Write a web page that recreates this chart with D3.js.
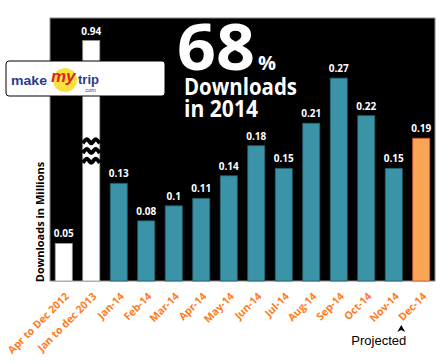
<!DOCTYPE html>
<html>
<head>
<meta charset="utf-8">
<script src="https://cdn.jsdelivr.net/npm/d3@7"></script>
<style>
  body { margin: 0; background: #fff; }
  svg { display: block; font-family: "Open Sans", sans-serif; }
</style>
</head>
<body>
<div id="chart"></div>
<script>
// data
const categories = ['Apr to Dec 2012', 'Jan to dec 2013', 'Jan-14', 'Feb-14', 'Mar-14', 'Apr-14', 'May-14',
  'Jun-14', 'Jul-14', 'Aug-14', 'Sep-14', 'Oct-14', 'Nov-14', 'Dec-14'];
const downloads = [0.05, 0.94, 0.13, 0.08, 0.1, 0.11, 0.14, 0.18, 0.15, 0.21, 0.27, 0.22, 0.15, 0.19];
const kinds = ['past', 'past', 'month', 'month', 'month', 'month', 'month', 'month', 'month', 'month',
  'month', 'month', 'month', 'projected'];
const yDomain = [0, 0.35];
const breakValue = 0.32; // bars above this are drawn broken
const breakMarks = [0.186, 0.173, 0.16];

const W = 448, H = 364;
const panel = { left: 50, right: 435, top: 18, bottom: 281 };

const fills = { past: '#ffffff', month: '#3a93a6', projected: '#f8a556' };
const strokes = { past: '#9a9a9a', month: '#245e6b', projected: '#d6573a' };

const svg = d3.select('#chart').append('svg')
  .attr('width', W).attr('height', H);

svg.append('rect')
  .attr('x', panel.left).attr('y', panel.top)
  .attr('width', panel.right - panel.left).attr('height', panel.bottom - panel.top)
  .attr('fill', '#000').attr('stroke', '#8a8a8a').attr('stroke-width', 1);

const x = d3.scaleBand()
  .domain(categories)
  .range([panel.left, panel.right])
  .paddingInner(0.38)
  .paddingOuter(0.19);

const y = d3.scaleLinear().domain(yDomain).range([panel.bottom, panel.top]);

const data = categories.map((c, i) => ({ cat: c, v: downloads[i], kind: kinds[i] }));

// bars
svg.selectAll('.bar').data(data).enter().append('rect')
  .attr('class', 'bar')
  .attr('x', d => x(d.cat))
  .attr('y', d => y(Math.min(d.v, breakValue)))
  .attr('width', x.bandwidth())
  .attr('height', d => panel.bottom - y(Math.min(d.v, breakValue)))
  .attr('fill', d => fills[d.kind])
  .attr('stroke', d => strokes[d.kind])
  .attr('stroke-width', 0.8);

// break marks on the clipped bar
data.filter(d => d.v > breakValue).forEach(d => {
  const x0 = x(d.cat), bw = x.bandwidth();
  breakMarks.forEach(lv => {
    const yy = y(lv);
    const pts = d3.range(0, 5).map(k => [x0 + k * bw / 4, yy + (k % 2 === 0 ? 2 : -2)]);
    svg.append('path')
      .attr('d', d3.line().curve(d3.curveCatmullRom)(pts))
      .attr('fill', 'none').attr('stroke', '#000').attr('stroke-width', 4);
  });
});

// value labels
svg.selectAll('.val').data(data).enter().append('text')
  .attr('class', 'val')
  .attr('x', d => x(d.cat) + x.bandwidth() / 2)
  .attr('y', d => y(Math.min(d.v, breakValue)) - 6)
  .attr('text-anchor', 'middle')
  .attr('fill', '#fff')
  .attr('font-size', 10)
  .attr('font-weight', 'bold')
  .text(d => d.v);

// x axis labels
const xAxis = svg.append('g')
  .attr('transform', 'translate(0,' + panel.bottom + ')')
  .call(d3.axisBottom(x).tickSize(0).tickPadding(0));
xAxis.select('.domain').remove();
xAxis.selectAll('text')
  .attr('fill', '#ff7b1c')
  .attr('font-size', 10.5)
  .attr('font-weight', 'bold')
  .attr('font-family', '"Open Sans", sans-serif')
  .attr('text-anchor', 'end')
  .attr('dy', 0)
  .attr('transform', 'translate(6,16) rotate(-45)');

// y label
svg.append('text')
  .attr('transform', 'translate(44,222) rotate(-90)')
  .attr('text-anchor', 'middle')
  .attr('font-size', 11)
  .attr('font-weight', 'bold')
  .attr('fill', '#000')
  .text('Downloads in Millions');

// headline
const head = svg.append('text').attr('fill', '#fff').attr('font-weight', 'bold');
head.append('tspan').attr('x', 177).attr('y', 70).attr('font-size', 64)
  .attr('textLength', 78).attr('lengthAdjust', 'spacingAndGlyphs').text('68');
head.append('tspan').attr('x', 258).attr('y', 70).attr('font-size', 20).text('%');
svg.append('text').attr('x', 184).attr('y', 95).attr('fill', '#fff')
  .attr('font-weight', 'bold').attr('font-size', 24)
  .attr('textLength', 113).attr('lengthAdjust', 'spacingAndGlyphs').text('Downloads');
svg.append('text').attr('x', 184).attr('y', 117).attr('fill', '#fff')
  .attr('font-weight', 'bold').attr('font-size', 24)
  .attr('textLength', 74).attr('lengthAdjust', 'spacingAndGlyphs').text('in 2014');

// logo
const logo = svg.append('g');
logo.append('rect').attr('x', 6).attr('y', 61).attr('width', 159).attr('height', 35).attr('rx', 3)
  .attr('fill', '#fff').attr('stroke', '#000').attr('stroke-width', 1);
logo.append('circle').attr('cx', 65).attr('cy', 80).attr('r', 12).attr('fill', '#f6e23a');
logo.append('text').attr('x', 11).attr('y', 85).attr('font-size', 13).attr('font-weight', 'bold')
  .attr('fill', '#2a3a8f').attr('font-family', 'Arial, sans-serif')
  .attr('textLength', 36).attr('lengthAdjust', 'spacingAndGlyphs').text('make');
logo.append('text').attr('x', 51).attr('y', 82).attr('font-size', 17).attr('font-weight', 'bold')
  .attr('font-style', 'italic').attr('fill', '#e0232a').attr('font-family', 'Arial, sans-serif').text('my');
logo.append('text').attr('x', 78).attr('y', 84).attr('font-size', 13).attr('font-weight', 'bold')
  .attr('fill', '#2a3a8f').attr('font-family', 'Arial, sans-serif').text('trip');
logo.append('text').attr('x', 84).attr('y', 92).attr('font-size', 5.5)
  .attr('fill', '#2a3a8f').attr('font-family', 'Arial, sans-serif').text('.com');

// projected note
const last = categories[categories.length - 1];
const ax = x(last) + x.bandwidth() / 2 - 20;
svg.append('path')
  .attr('d', `M${ax - 4},${332} L${ax},${325} L${ax + 4},${332} L${ax},${330} Z`)
  .attr('fill', '#000');
svg.append('text').attr('x', ax + 5).attr('y', 345).attr('text-anchor', 'end')
  .attr('font-size', 13).attr('font-family', '"Liberation Sans", Arial, sans-serif')
  .attr('fill', '#000').text('Projected');
</script>
</body>
</html>
